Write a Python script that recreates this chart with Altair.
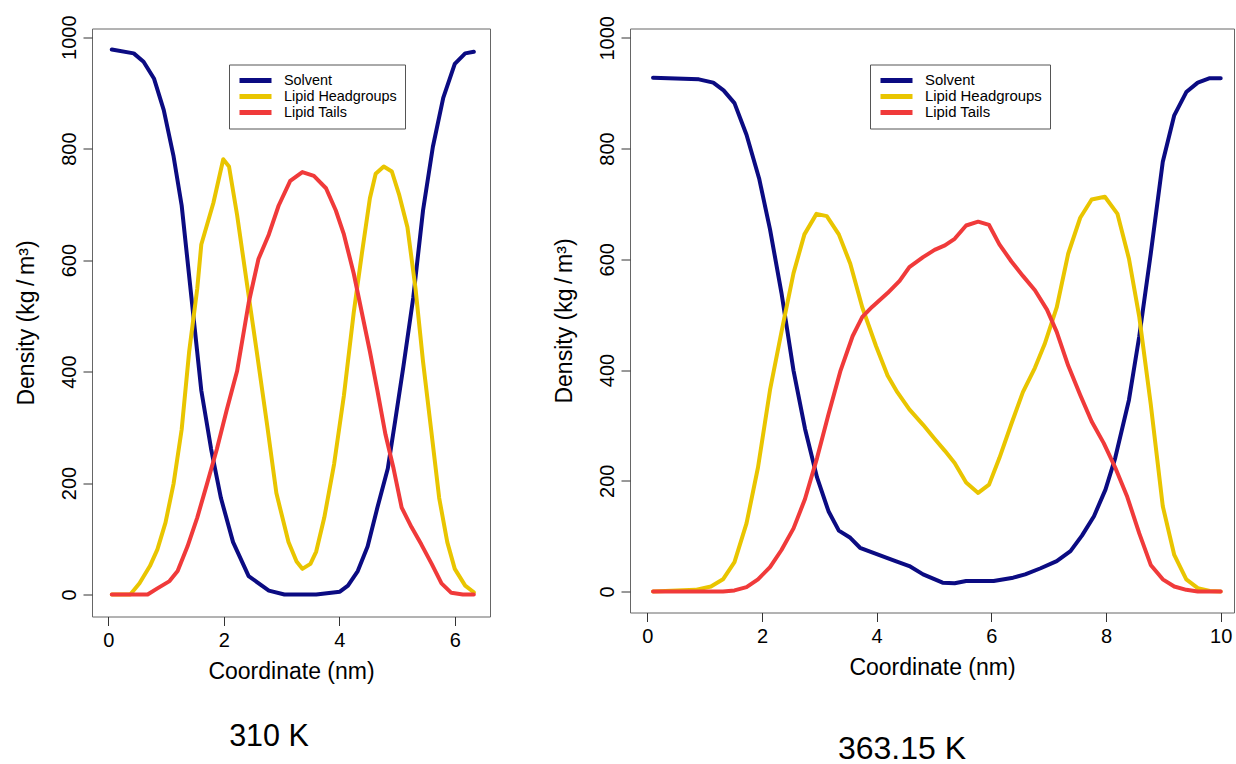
import altair as alt
import pandas as pd

series_names = ["Solvent", "Lipid Headgroups", "Lipid Tails"]
series_colors = ["#0b0b82", "#e9c500", "#f03a3a"]

# ---- 310 K panel ----
t310_solvent_x = [0.06, 0.44, 0.61, 0.79, 0.96, 1.13, 1.27, 1.44, 1.61, 1.78, 1.95, 2.16, 2.43, 2.78, 3.05,
                  3.6, 4.01, 4.15, 4.32, 4.49, 4.66, 4.84, 4.97, 5.11, 5.28, 5.45, 5.62, 5.80, 6.0, 6.18, 6.33]
t310_solvent_v = [978, 971, 956, 926, 869, 786, 698, 532, 366, 261, 173, 94, 33, 7, 0,
                  0, 5, 16, 42, 86, 156, 226, 313, 409, 532, 689, 803, 891, 952, 971, 974]

t310_head_x = [0.06, 0.38, 0.54, 0.72, 0.85, 0.99, 1.13, 1.27, 1.40, 1.54, 1.61, 1.82, 1.99, 2.09, 2.23,
               2.40, 2.57, 2.75, 2.91, 3.12, 3.26, 3.36, 3.5, 3.6, 3.74, 3.91, 4.08, 4.25, 4.39, 4.53,
               4.63, 4.77, 4.91, 5.04, 5.18, 5.32, 5.45, 5.59, 5.73, 5.87, 6.0, 6.18, 6.33]
t310_head_v = [0, 0, 20, 51, 81, 129, 199, 296, 436, 549, 628, 703, 781, 768, 681,
               558, 436, 304, 182, 94, 59, 46, 55, 77, 138, 234, 357, 506, 611, 711,
               755, 768, 759, 716, 659, 549, 418, 296, 173, 94, 46, 16, 4]

t310_tail_x = [0.06, 0.68, 0.85, 1.06, 1.2, 1.37, 1.54, 1.71, 1.88, 2.05, 2.23, 2.43, 2.60, 2.78, 2.95,
               3.15, 3.36, 3.56, 3.77, 3.94, 4.08, 4.25, 4.39, 4.53, 4.66, 4.80, 4.94, 5.08, 5.25, 5.42,
               5.60, 5.77, 5.94, 6.14, 6.33]
t310_tail_v = [0, 0, 11, 24, 42, 86, 138, 199, 261, 331, 401, 523, 602, 646, 698,
               742, 758, 751, 729, 689, 646, 576, 506, 436, 366, 287, 226, 156, 121, 90,
               55, 20, 3, 0, 0]

# ---- 363.15 K panel ----
t363_solvent_x = [0.1, 0.9, 1.15, 1.33, 1.52, 1.73, 1.95, 2.14, 2.34, 2.55, 2.75, 2.96, 3.16, 3.34, 3.54,
                  3.71, 3.99, 4.33, 4.57, 4.81, 5.15, 5.36, 5.56, 5.77, 6.04, 6.38, 6.59, 6.86, 7.14, 7.38,
                  7.58, 7.79, 7.99, 8.16, 8.40, 8.58, 8.78, 8.99, 9.19, 9.40, 9.60, 9.81, 10.0]
t363_solvent_v = [928, 925, 919, 905, 882, 825, 746, 654, 539, 399, 294, 206, 145, 110, 97,
                  79, 68, 55, 46, 31, 16, 15, 19, 19, 19, 25, 31, 42, 55, 73,
                  101, 136, 184, 241, 346, 461, 610, 776, 860, 902, 919, 927, 927]

t363_head_x = [0.1, 0.84, 1.11, 1.32, 1.52, 1.73, 1.93, 2.14, 2.34, 2.55, 2.74, 2.95, 3.13, 3.34, 3.54,
               3.75, 3.99, 4.19, 4.36, 4.57, 4.81, 5.01, 5.19, 5.36, 5.56, 5.77, 5.96, 6.14, 6.35, 6.55,
               6.76, 6.93, 7.14, 7.34, 7.55, 7.75, 7.98, 8.2, 8.40, 8.58, 8.78, 8.99, 9.19, 9.40, 9.60,
               9.81, 10.0]
t363_head_v = [0, 3, 9, 22, 53, 123, 224, 364, 469, 575, 645, 682, 678, 645, 592,
               513, 443, 390, 360, 329, 301, 276, 254, 232, 197, 178, 193, 241, 303, 360,
               404, 447, 513, 610, 675, 708, 713, 682, 601, 496, 338, 154, 66, 22, 6,
               1, 0]

t363_tail_x = [0.1, 1.32, 1.52, 1.73, 1.93, 2.14, 2.34, 2.55, 2.75, 2.96, 3.16, 3.37, 3.58, 3.75, 3.92,
               4.19, 4.40, 4.57, 4.81, 5.01, 5.19, 5.36, 5.56, 5.77, 5.96, 6.14, 6.35, 6.55, 6.76, 6.97,
               7.14, 7.34, 7.55, 7.75, 7.96, 8.16, 8.37, 8.58, 8.78, 8.99, 9.19, 9.40, 9.60, 10.0]
t363_tail_v = [0, 0, 2, 8, 22, 44, 75, 114, 167, 241, 320, 399, 461, 496, 514,
               539, 561, 586, 604, 617, 625, 637, 661, 668, 662, 627, 596, 570, 544, 509,
               469, 408, 355, 307, 268, 224, 171, 105, 48, 22, 9, 3, 0, 0]

x_ticks_310 = [0, 2, 4, 6]
x_ticks_363 = [0, 2, 4, 6, 8, 10]
y_ticks = [0, 200, 400, 600, 800, 1000]
y_title = "Density (kg\u2009/\u2009m³)"
x_title = "Coordinate (nm)"


def frame(parts):
    rows = []
    for name, xs, vs in parts:
        for i, (a, b) in enumerate(zip(xs, vs)):
            rows.append({"series": name, "x": a, "v": b, "i": i})
    return pd.DataFrame(rows)


df310 = frame([("Solvent", t310_solvent_x, t310_solvent_v),
               ("Lipid Headgroups", t310_head_x, t310_head_v),
               ("Lipid Tails", t310_tail_x, t310_tail_v)])
df363 = frame([("Solvent", t363_solvent_x, t363_solvent_v),
               ("Lipid Headgroups", t363_head_x, t363_head_v),
               ("Lipid Tails", t363_tail_x, t363_tail_v)])


def panel(df, xdom, ydom, xticks, w, h, title, tfs, tdx, toff, legx, legy, lfs):
    return alt.Chart(df).mark_line(strokeWidth=4, strokeJoin="round", strokeCap="round").encode(
        x=alt.X("x:Q", scale=alt.Scale(domain=xdom, nice=False, zero=False),
                axis=alt.Axis(values=xticks, title=x_title, format="d")),
        y=alt.Y("v:Q", scale=alt.Scale(domain=ydom, nice=False, zero=False),
                axis=alt.Axis(values=y_ticks, title=y_title, format="d")),
        color=alt.Color("series:N", scale=alt.Scale(domain=series_names, range=series_colors),
                        legend=alt.Legend(title=None, orient="none", legendX=legx, legendY=legy,
                                          symbolType="stroke", symbolSize=1024, symbolStrokeWidth=5,
                                          clipHeight=16, labelFontSize=lfs, labelFont="Liberation Sans",
                                          labelColor="black", padding=8, rowPadding=0,
                                          strokeColor="#555", fillColor="white", labelOffset=10)),
        order=alt.Order("i:Q"),
    ).properties(width=w, height=h,
                 title=alt.TitleParams(title, orient="bottom", dx=tdx, offset=toff, fontSize=tfs))


left = panel(df310, [-0.283, 6.61], [-39.5, 1015.6], x_ticks_310, 398, 588,
             "310 K", 30.5, -22, 38, 137, 36, 14.4)
right = panel(df363, [-0.302, 10.232], [-37.9, 1016.8], x_ticks_363, 604, 584,
              "363.15 K", 32, -30, 54, 240, 36, 14.9)

chart = alt.hconcat(left, right, spacing=61).resolve_scale(
    x="independent", y="independent", color="independent"
).resolve_legend(color="independent").properties(
    padding={"left": 14, "top": 13.5, "right": 0, "bottom": 0}, background="white"
).configure_axis(
    labelFont="Liberation Sans", labelFontSize=20, labelColor="black",
    titleFont="Liberation Sans", titleFontSize=23, titleFontWeight="normal", titleColor="black",
    domain=False, tickColor="#333", tickSize=9, grid=False, labelOverlap=False
).configure_axisY(
    labelAngle=-90, labelAlign="center", labelBaseline="bottom", labelPadding=4, titlePadding=21
).configure_axisX(
    labelPadding=5, titlePadding=10
).configure_view(
    stroke="#666", strokeWidth=1
).configure_title(
    font="Liberation Sans", fontSize=30, fontWeight="normal", color="black"
)

chart.save("out.html", embed_options={"renderer": "svg", "actions": False})
